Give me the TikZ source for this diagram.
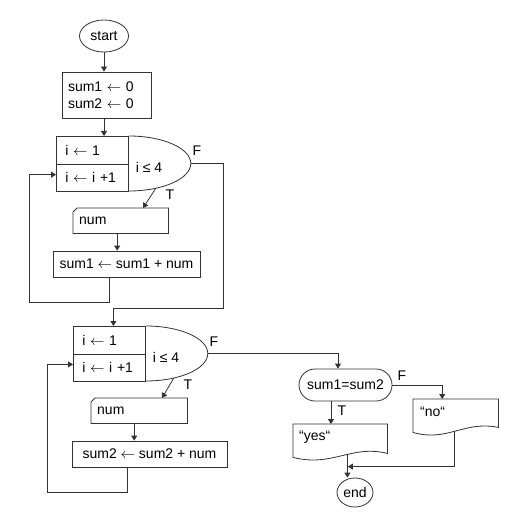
\documentclass[tikz,border=0pt]{standalone}
\usepackage{fontspec}
\setmainfont{Liberation Sans}
\usetikzlibrary{arrows.meta,shapes.geometric,calc}
\newcommand{\assign}{\ensuremath{\leftarrow}}

\begin{document}
\begin{tikzpicture}[x=1pt,y=-1pt,
  font=\fontsize{14}{17}\selectfont,
  line/.style={draw=black!80, line width=0.8pt},
  arr/.style={line, -{Triangle[length=5pt,width=6pt]}},
  box/.style={line, rectangle, inner sep=0pt},
  cell/.style={box, minimum width=72pt, minimum height=27.5pt, text width=54pt,
    align=left, anchor=north west},
  frame/.style={rectangle, inner sep=0pt, anchor=north west},
  lbl/.style={inner sep=0pt},
  terminal/.style={line, ellipse, inner sep=0pt}]
\useasboundingbox (0,0) rectangle (527,516);

% ---- start and initialisation ----
\node[terminal, minimum width=49pt, minimum height=32pt] (start) at (104,36) {start};
\node[box, minimum width=89pt, minimum height=46pt, text width=77pt, align=left]
  (init) at (106.5,95) {sum1 \assign{} 0\\sum2 \assign{} 0};
\draw[arr] (start.south) -- (start.south |- init.north);

% ---- first counting loop ----
\node[cell] (a1) at (56,136) {i \assign{} 1};
\node[cell] (b1) at (56,163.5) {i \assign{} i +1};
\draw[line] (a1.north east) arc[start angle=90, end angle=-90, x radius=62pt, y radius=27.5pt];
\coordinate (tip1) at ($(a1.north east)+(62,27.5)$);
\coordinate (t1) at ($(a1.north east)+(27,52.3)$);
\node[lbl] (c1) at (149,167) {i ≤ 4};
\node[lbl] (f1) at (197,151) {F};
\node[lbl] (tl1) at (170,195) {T};
\draw[arr] (start.south |- init.south) -- (start.south |- a1.north);

\node[frame, minimum width=95pt, minimum height=25pt, text width=83pt, align=left]
  (n1) at (73,208) {num};
\draw[line] ([xshift=4pt]n1.north west) -- (n1.north east) -- (n1.south east)
  -- (n1.south west) -- ([yshift=-4pt]n1.north west) -- cycle;
\draw[arr] (t1) -- ($(n1.north west)+(70,0)$);

\node[box, minimum width=147pt, minimum height=26pt] (s1) at (126.5,264) {sum1 \assign{} sum1 + num};
\draw[arr] ([xshift=-3.5pt]n1.south) -- ([xshift=-3.5pt]n1.south |- s1.north);
\draw[arr] ([xshift=-17.5pt]s1.south) -- ++(0,25) -- ++(-80,0) |- ([yshift=3pt]b1.west);

% ---- second counting loop ----
\node[cell] (a2) at (73,326) {i \assign{} 1};
\node[cell] (b2) at (73,353.5) {i \assign{} i +1};
\draw[line] (a2.north east) arc[start angle=90, end angle=-90, x radius=62pt, y radius=27.5pt];
\coordinate (tip2) at ($(a2.north east)+(62,27.5)$);
\coordinate (t2) at ($(a2.north east)+(28,52)$);
\node[lbl] (c2) at (166,357) {i ≤ 4};
\node[lbl] (f2) at (214,342) {F};
\node[lbl] (tl2) at (188,385) {T};
\draw[arr] (tip1) -- ++(33,0) |- ($(a2.north)+(4,-18)$) -- ([xshift=4pt]a2.north);

\node[frame, minimum width=96pt, minimum height=25pt, text width=84pt, align=left]
  (n2) at (91,398) {num};
\draw[line] ([xshift=4pt]n2.north west) -- (n2.north east) -- (n2.south east)
  -- (n2.south west) -- ([yshift=-4pt]n2.north west) -- cycle;
\draw[arr] (t2) -- ($(n2.north west)+(71,0)$);

\node[box, minimum width=155pt, minimum height=26pt] (s2) at (149.5,454) {sum2 \assign{} sum2 + num};
\draw[arr] ([xshift=-5pt]n2.south) -- ([xshift=-5pt]n2.south |- s2.north);
\draw[arr] ([xshift=-22.5pt]s2.south) -- ++(0,25) -- ++(-80,0) |- ([yshift=3.25pt]b2.west);

% ---- comparison and output ----
\node[line, rectangle, rounded corners=16pt, minimum width=93pt, minimum height=32pt,
  inner sep=0pt] (dec) at (345.5,385) {sum1=sum2};
\draw[arr] (tip2) -| ([xshift=-7.5pt]dec.north);
\node[lbl] (f3) at (402,376) {F};
\node[lbl] (tl3) at (342,411) {T};

\node[frame, minimum width=94pt, minimum height=33pt] (yes) at (293,424) {};
\draw[line] (yes.south west) .. controls ($(yes.south west)+(40,10)$) and ($(yes.south west)+(58,-13)$)
  .. coordinate[pos=0.57] (yesb) ($(yes.south east)+(0,-4)$)
  -- (yes.north east) -- (yes.north west) -- cycle;
\node[lbl, anchor=base west] (yest) at ($(yes.north west)+(6,16)$) {“yes“};

\node[frame, minimum width=85pt, minimum height=33pt] (no) at (413,399) {};
\draw[line] (no.south west) .. controls ($(no.south west)+(34,10)$) and ($(no.south west)+(51,-12)$)
  .. coordinate[pos=0.48] (nob) ($(no.south east)+(0,-5)$)
  -- (no.north east) -- (no.north west) -- cycle;
\node[lbl, anchor=base west] (not) at ($(no.north west)+(7,17)$) {“no“};

\draw[arr] (dec.east) -| ([xshift=-13.5pt]no.north);
\draw[arr] ([xshift=-14.5pt]dec.south) -- ([xshift=-14.5pt]dec.south |- yes.north);

\node[terminal, minimum width=36pt, minimum height=29pt] (fin) at (355,492.5) {end};
\draw[arr] (yesb) -- (yesb |- fin.north);
\coordinate (join) at ($(yesb |- fin.north)+(0,-11)$);
\draw[arr] (nob) |- ([xshift=0.5pt]join);
\end{tikzpicture}
\end{document}
